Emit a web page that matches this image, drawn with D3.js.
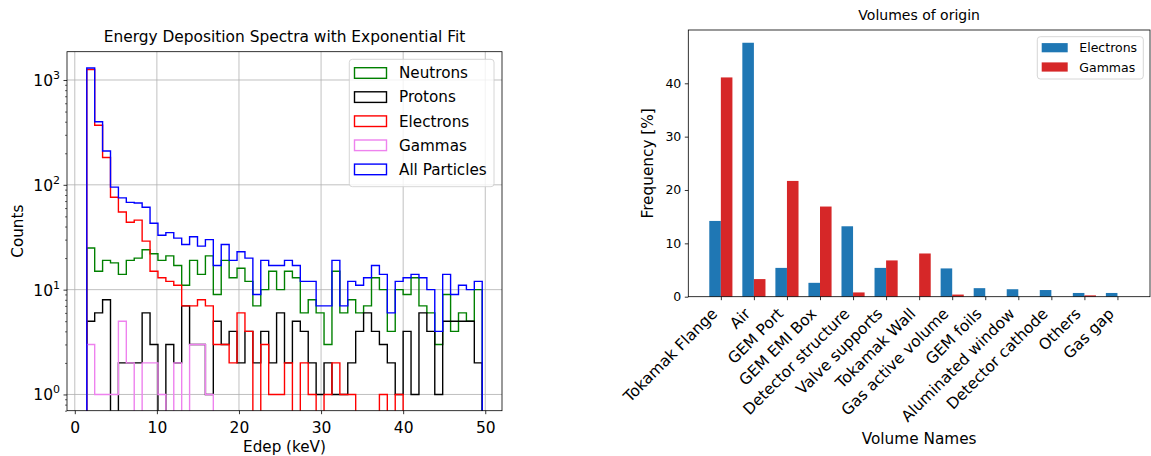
<!DOCTYPE html>
<html lang="en">
<head>
<meta charset="utf-8">
<title>Energy deposition spectra and volumes of origin</title>
<script src="https://d3js.org/d3.v7.min.js"></script>
<style>
  body { margin: 0; background: #fff; }
  svg { font-family: "DejaVu Sans", sans-serif; }
</style>
</head>
<body>
<script>
// histogram binning: 50 equal bins between binLo and binHi (keV)
const binLo = 1.46, binHi = 49.63, nBins = 50

const neutrons = [25, 15, 19, 18, 14, 19, 20, 24, 22, 19, 21, 17, 11, 19, 14, 21, 9, 19, 13, 16,
  12, 7, 10, 15, 10, 15, 13, 6, 8, 6, 3, 15, 6, 8, 6, 7, 13, 10, 4, 10,
  9, 13, 7, 6, 3, 9, 4, 6, 5, 10]
const protons = [5, 6, 8, 0, 2, 2, 2, 6, 3, 0, 3, 2, 7, 3, 3, 1, 5, 3, 4, 2,
  4, 2, 4, 2, 6, 2, 5, 4, 2, 1, 2, 1, 1, 2, 4, 6, 4, 3, 2, 1,
  4, 1, 6, 4, 1, 5, 5, 5, 5, 2]
const electrons = [1260, 370, 182, 76, 55, 44, 46, 29, 15, 13, 12, 11, 7, 7, 8, 7, 3, 3, 2, 6,
  4, 0, 3, 1, 1, 2, 0, 2, 1, 0, 1, 2, 1, 1, 0, 0, 0, 1, 0, 1,
  0, 0, 0, 0, 0, 0, 0, 0, 0, 0]
const gammas = [3, 1, 1, 1, 5, 2, 0, 2, 2, 1, 0, 2, 0, 3, 3, 1, 0, 0, 0, 0,
  0, 0, 0, 0, 0, 0, 0, 0, 0, 0, 0, 0, 0, 0, 0, 0, 0, 0, 0, 0,
  0, 0, 0, 0, 0, 0, 0, 0, 0, 0]
const allParticles = [1300, 400, 210, 95, 75, 68, 67, 61, 43, 33, 35, 31, 27, 32, 26, 30, 17, 27, 19, 23,
  20, 9, 19, 17, 17, 19, 17, 12, 12, 7, 7, 19, 7, 12, 11, 13, 17, 14, 6, 12,
  13, 14, 13, 10, 4, 14, 9, 11, 10, 12]

const spectra = [
  {name: "Neutrons", color: "green", values: neutrons},
  {name: "Protons", color: "black", values: protons},
  {name: "Electrons", color: "red", values: electrons},
  {name: "Gammas", color: "violet", values: gammas},
  {name: "All Particles", color: "blue", values: allParticles}
]
const edepTicks = [0, 10, 20, 30, 40, 50]
const countTicks = [1, 10, 100, 1000]

// volumes of origin (percent)
const volumes = ["Tokamak Flange", "Air", "GEM Port", "GEM EMI Box", "Detector structure",
  "Valve supports", "Tokamak Wall", "Gas active volume", "GEM foils", "Aluminated window",
  "Detector cathode", "Others", "Gas gap"]
const electronFreq = [14.2, 47.6, 5.4, 2.6, 13.2, 5.4, 0, 5.3, 1.6, 1.4, 1.25, 0.7, 0.7]
const gammaFreq = [41.1, 3.3, 21.7, 16.9, 0.8, 6.8, 8.1, 0.4, 0, 0, 0, 0.25, 0]
const freqTicks = [0, 10, 20, 30, 40]

let w = 1151, h = 456

let svg = d3.select("body").append("svg")
  .attr("width", w).attr("height", h)
svg.append("rect").attr("width", w).attr("height", h).attr("fill", "white")

// ---------- left: spectra ----------
let L = {x0: 67, x1: 502, y0: 51.7, y1: 410.7}
let pad = (binHi - binLo) * 0.05
let x = d3.scaleLinear().domain([binLo - pad, binHi + pad]).range([L.x0, L.x1])
let y = d3.scaleLog().domain([0.70, 1862]).range([L.y1, L.y0])
let edges = d3.range(nBins + 1).map(i => binLo + i * (binHi - binLo) / nBins)

let left = svg.append("g")

left.append("clipPath").attr("id", "clipL")
  .append("rect").attr("x", L.x0).attr("y", L.y0)
  .attr("width", L.x1 - L.x0).attr("height", L.y1 - L.y0)

// grid
left.append("g").selectAll("line").data(edepTicks).enter().append("line")
  .attr("x1", d => x(d)).attr("x2", d => x(d))
  .attr("y1", L.y0).attr("y2", L.y1)
  .attr("stroke", "#b0b0b0").attr("stroke-width", 0.8)
left.append("g").selectAll("line").data(countTicks).enter().append("line")
  .attr("x1", L.x0).attr("x2", L.x1)
  .attr("y1", d => y(d)).attr("y2", d => y(d))
  .attr("stroke", "#b0b0b0").attr("stroke-width", 0.8)

// step outlines
let step = d3.line()
  .x(d => x(d[0]))
  .y(d => d[1] > 0 ? y(d[1]) : L.y1 + 20)

function stepPoints(vals) {
  let pts = [[edges[0], 0]]
  vals.forEach((v, i) => { pts.push([edges[i], v], [edges[i + 1], v]) })
  pts.push([edges[nBins], 0])
  return pts
}

left.append("g").attr("clip-path", "url(#clipL)")
  .selectAll("path").data(spectra).enter().append("path")
  .attr("d", d => step(stepPoints(d.values)))
  .attr("fill", "none")
  .attr("stroke", d => d.color)
  .attr("stroke-width", 1.4)
  .attr("stroke-linejoin", "miter")

// axes
let xAxisL = left.append("g")
  .attr("transform", "translate(0," + L.y1 + ")")
  .call(d3.axisBottom(x).tickValues(edepTicks).tickSize(3.5).tickPadding(3.5))
xAxisL.select(".domain").remove()
xAxisL.selectAll("line").attr("stroke-width", 0.8)
xAxisL.selectAll("text").attr("font-size", 15.5).attr("font-family", "DejaVu Sans").attr("fill", "#000")
  .attr("dy", null).attr("y", 22.5)

let minors = []
countTicks.concat([0.1]).forEach(p => { for (let k = 2; k < 10; k++) minors.push(p * k) })
minors = minors.filter(v => v > 0.70 && v < 1862)
let yMinor = left.append("g").attr("transform", "translate(" + L.x0 + ",0)")
  .call(d3.axisLeft(y).tickValues(minors).tickSize(2).tickFormat(""))
yMinor.select(".domain").remove()
yMinor.selectAll("line").attr("stroke-width", 0.6)

let yAxisL = left.append("g").attr("transform", "translate(" + L.x0 + ",0)")
  .call(d3.axisLeft(y).tickValues(countTicks).tickSize(3.5).tickPadding(3.5).tickFormat(""))
yAxisL.select(".domain").remove()
yAxisL.selectAll("line").attr("stroke-width", 0.8)
yAxisL.selectAll(".tick text").each(function(d) {
  let t = d3.select(this).attr("font-size", 15.5).attr("font-family", "DejaVu Sans")
    .attr("fill", "#000").attr("dy", null).attr("y", 5.5)
  t.append("tspan").text("10")
  t.append("tspan").attr("dy", -7).attr("font-size", 11).text(Math.round(Math.log10(d)))
})

left.append("rect").attr("x", L.x0).attr("y", L.y0)
  .attr("width", L.x1 - L.x0).attr("height", L.y1 - L.y0)
  .attr("fill", "none").attr("stroke", "black").attr("stroke-width", 0.8)

left.append("text").attr("x", (L.x0 + L.x1) / 2).attr("y", 41.5)
  .attr("text-anchor", "middle").attr("font-size", 15.4)
  .text("Energy Deposition Spectra with Exponential Fit")
left.append("text").attr("x", (L.x0 + L.x1) / 2).attr("y", 452)
  .attr("text-anchor", "middle").attr("font-size", 15.2)
  .text("Edep (keV)")
left.append("text")
  .attr("transform", "translate(23," + (L.y0 + L.y1) / 2 + ") rotate(-90)")
  .attr("text-anchor", "middle").attr("font-size", 15.2)
  .text("Counts")

// legend
let lg = left.append("g")
lg.append("rect").attr("x", 349.3).attr("y", 59.3).attr("width", 144.7).attr("height", 127.4)
  .attr("rx", 3).attr("fill", "white").attr("fill-opacity", 0.8)
  .attr("stroke", "#cccccc").attr("stroke-width", 0.8)
let rows = lg.selectAll("g.row").data(spectra).enter().append("g")
  .attr("transform", (d, i) => "translate(0," + (73 + i * 24.1) + ")")
rows.append("rect").attr("x", 354.5).attr("y", -5.3).attr("width", 32).attr("height", 10.6)
  .attr("fill", "none").attr("stroke", d => d.color).attr("stroke-width", 1.4)
rows.append("text").attr("x", 399).attr("y", 5.3).attr("font-size", 15.2)
  .text(d => d.name)

// ---------- right: volumes ----------
let R = {x0: 688.3, x1: 1150, y0: 30, y1: 296.7}
let barW = 0.35
let xr = d3.scaleLinear().domain([-barW - 0.635, volumes.length - 1 + barW + 0.635]).range([R.x0, R.x1])
let yr = d3.scaleLinear().domain([0, 49.99]).range([R.y1, R.y0])

let right = svg.append("g")

right.append("g").selectAll("rect").data(electronFreq).enter().append("rect")
  .attr("x", (d, i) => xr(i - barW)).attr("width", (d, i) => xr(i) - xr(i - barW))
  .attr("y", d => yr(d)).attr("height", d => yr(0) - yr(d))
  .attr("fill", "#1f77b4")
right.append("g").selectAll("rect").data(gammaFreq).enter().append("rect")
  .attr("x", (d, i) => xr(i)).attr("width", (d, i) => xr(i + barW) - xr(i))
  .attr("y", d => yr(d)).attr("height", d => yr(0) - yr(d))
  .attr("fill", "#d62728")

let xAxisR = right.append("g").attr("transform", "translate(0," + R.y1 + ")")
  .call(d3.axisBottom(xr).tickValues(d3.range(volumes.length)).tickSize(3.5).tickFormat(""))
xAxisR.select(".domain").remove()
xAxisR.selectAll("line").attr("stroke-width", 0.8)

right.append("g").selectAll("text").data(volumes).enter().append("text")
  .attr("transform", (d, i) => "translate(" + (xr(i) - 2.6) + "," + (R.y1 + 18) + ") rotate(-45)")
  .attr("text-anchor", "end").attr("font-size", 15.5)
  .text(d => d)

let yAxisR = right.append("g").attr("transform", "translate(" + R.x0 + ",0)")
  .call(d3.axisLeft(yr).tickValues(freqTicks).tickSize(3.5).tickPadding(3.5))
yAxisR.select(".domain").remove()
yAxisR.selectAll("line").attr("stroke-width", 0.8)
yAxisR.selectAll("text").attr("font-size", 12.5).attr("font-family", "DejaVu Sans").attr("fill", "#000")

right.append("rect").attr("x", R.x0).attr("y", R.y0)
  .attr("width", R.x1 - R.x0).attr("height", R.y1 - R.y0)
  .attr("fill", "none").attr("stroke", "black").attr("stroke-width", 0.8)

right.append("text").attr("x", (R.x0 + R.x1) / 2).attr("y", 19.5)
  .attr("text-anchor", "middle").attr("font-size", 14)
  .text("Volumes of origin")
right.append("text").attr("x", (R.x0 + R.x1) / 2).attr("y", 444)
  .attr("text-anchor", "middle").attr("font-size", 15.3)
  .text("Volume Names")
right.append("text")
  .attr("transform", "translate(652.5," + (R.y0 + R.y1) / 2 + ") rotate(-90)")
  .attr("text-anchor", "middle").attr("font-size", 15.3)
  .text("Frequency [%]")

let rl = right.append("g")
rl.append("rect").attr("x", 1037.3).attr("y", 36.7).attr("width", 106).attr("height", 42.3)
  .attr("rx", 3).attr("fill", "white").attr("fill-opacity", 0.8)
  .attr("stroke", "#cccccc").attr("stroke-width", 0.8)
let rlItems = [{name: "Electrons", color: "#1f77b4"}, {name: "Gammas", color: "#d62728"}]
let rlRows = rl.selectAll("g.row").data(rlItems).enter().append("g")
  .attr("transform", (d, i) => "translate(0," + (47.7 + i * 19.3) + ")")
rlRows.append("rect").attr("x", 1041.7).attr("y", -4.6).attr("width", 26).attr("height", 9.2)
  .attr("fill", d => d.color)
rlRows.append("text").attr("x", 1079.3).attr("y", 4.5).attr("font-size", 12.5)
  .text(d => d.name)
</script>
</body>
</html>
